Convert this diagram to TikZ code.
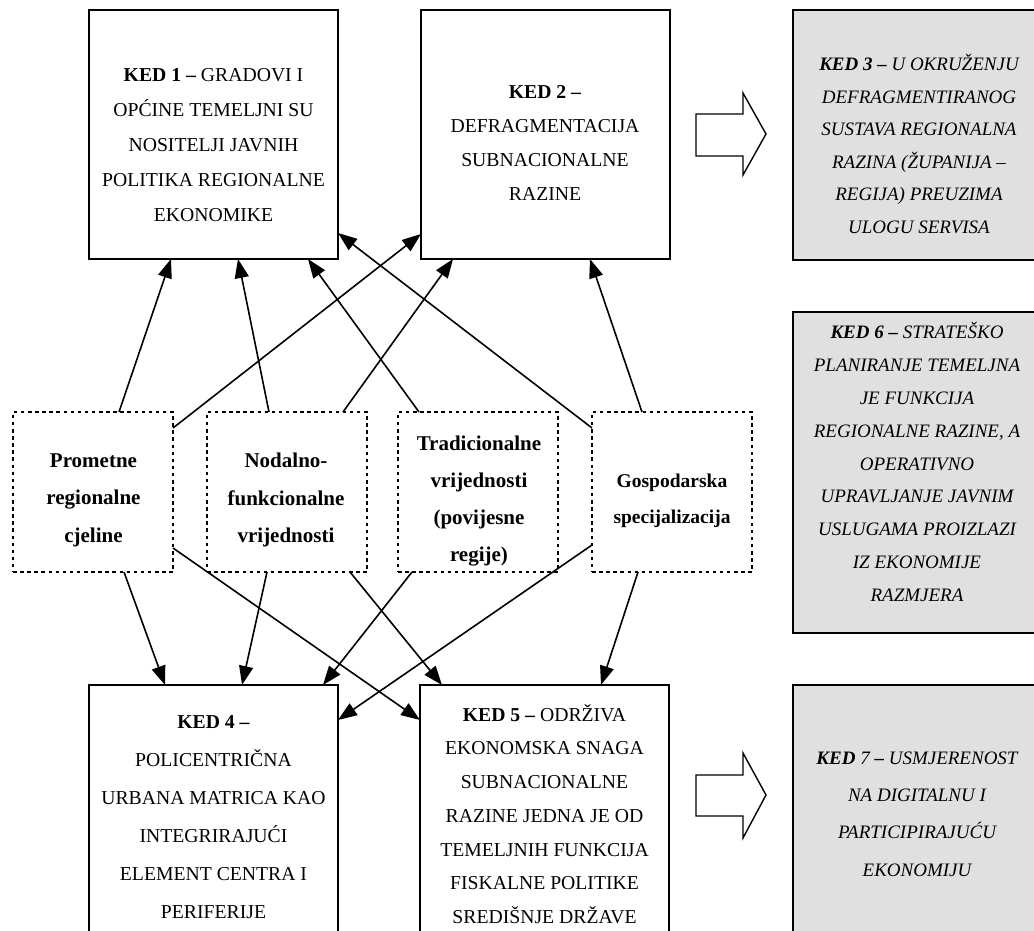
\documentclass[tikz,border=0pt]{standalone}
\usepackage{fontspec}
\setmainfont{Liberation Serif}
\usetikzlibrary{arrows.meta,calc}
\definecolor{boxgray}{RGB}{224,224,224}
\begin{document}
\begin{tikzpicture}[x=1pt,y=-1pt,
  kedbox/.style={draw=black, line width=1.8pt, minimum width=249pt, minimum height=249pt, inner sep=0pt, outer sep=0pt},
  graybox/.style={kedbox, fill=boxgray, minimum width=258pt},
  dotbox/.style={draw=black, line width=1.6pt, dash pattern=on 3.5pt off 3.6pt, minimum width=160pt, minimum height=160pt, inner sep=0pt, outer sep=0pt},
  link/.style={line width=1.6pt, -{Triangle[length=19pt,width=14pt]}},
  blockarrow/.style={draw=black, line width=1.4pt, fill=white, line join=miter},
  kedtext/.style={align=center, inner sep=0pt},
  dottext/.style={align=center, inner sep=0pt}
]
\useasboundingbox (0,0) rectangle (1034,931);
\clip (0,0) rectangle (1034,931);

% solid boxes
\node[kedbox] (k1) at (213.5,134.5) {};
\node[kedbox] (k2) at (545.5,134.5) {};
\node[graybox, minimum height=250pt] (k3) at (922,135) {};
\node[graybox, minimum height=321pt] (k6) at (922,472.5) {};
\node[graybox, minimum height=260pt] (k7) at (922,815) {};
\node[kedbox, minimum height=260pt] (k4) at (213.5,815) {};
\node[kedbox, minimum height=260pt] (k5) at (544.5,815) {};

% texts of solid boxes
\node[kedtext, font=\fontsize{19.7}{35}\selectfont] (t1) at (213.5,145)
  {\textbf{KED 1 –} GRADOVI I\\OPĆINE TEMELJNI SU\\NOSITELJI JAVNIH\\POLITIKA REGIONALNE\\EKONOMIKE};
\node[kedtext, font=\fontsize{19.7}{34}\selectfont] (t2) at (545,143)
  {\textbf{KED 2 –}\\DEFRAGMENTACIJA\\SUBNACIONALNE\\RAZINE};
\node[kedtext, font=\fontsize{19}{32.5}\selectfont\itshape] (t3) at (919,144)
  {\textbf{KED 3 –} U OKRUŽENJU\\DEFRAGMENTIRANOG\\SUSTAVA REGIONALNA\\RAZINA (ŽUPANIJA –\\REGIJA) PREUZIMA\\ULOGU SERVISA};
\node[kedtext, font=\fontsize{19}{32.9}\selectfont\itshape] (t6) at (917,462)
  {\textbf{KED 6 –} STRATEŠKO\\PLANIRANJE TEMELJNA\\JE FUNKCIJA\\REGIONALNE RAZINE, A\\OPERATIVNO\\UPRAVLJANJE JAVNIM\\USLUGAMA PROIZLAZI\\IZ EKONOMIJE\\RAZMJERA};
\node[kedtext, font=\fontsize{19}{37.3}\selectfont\itshape] (t7) at (917,814)
  {\textbf{KED} 7 \textbf{–} USMJERENOST\\NA DIGITALNU I\\PARTICIPIRAJUĆU\\EKONOMIJU};
\node[kedtext, font=\fontsize{19.7}{38}\selectfont] (t4) at (213.5,817)
  {\textbf{KED 4 –}\\POLICENTRIČNA\\URBANA MATRICA KAO\\INTEGRIRAJUĆI\\ELEMENT CENTRA I\\PERIFERIJE};
\node[kedtext, font=\fontsize{19.7}{33.7}\selectfont] (t5) at (544.5,814)
  {\textbf{KED 5 –} ODRŽIVA\\EKONOMSKA SNAGA\\SUBNACIONALNE\\RAZINE JEDNA JE OD\\TEMELJNIH FUNKCIJA\\FISKALNE POLITIKE\\SREDIŠNJE DRŽAVE};

% dotted boxes
\node[dotbox] (p1) at (93,492) {};
\node[dotbox] (p2) at (287,492) {};
\node[dotbox] (p3) at (478,492) {};
\node[dotbox] (p4) at (672,492) {};

\node[dottext, font=\fontsize{21}{37.5}\selectfont\bfseries] (q1) at (93.5,500) {Prometne\\regionalne\\cjeline};
\node[dottext, font=\fontsize{21}{37.5}\selectfont\bfseries] (q2) at (286,500) {Nodalno-\\funkcionalne\\vrijednosti};
\node[dottext, font=\fontsize{21}{36.7}\selectfont\bfseries] (q3) at (479,501) {Tradicionalne\\vrijednosti\\(povijesne\\regije)};
\node[dottext, font=\fontsize{19.5}{36}\selectfont\bfseries] (q4) at (672,501) {Gospodarska\\specijalizacija};

% block arrows
\draw[blockarrow] (696,114) -- (743,114) -- (743,93) -- (766,134) -- (743,175) -- (743,156) -- (696,156) -- cycle;
\draw[blockarrow] (696,775) -- (743,775) -- (743,753) -- (766,795) -- (743,838) -- (743,816) -- (696,816) -- cycle;

% connectors
\draw[link] ($(p1.north)+(26,0)$) -- ($(k1.south)+(-42.5,0)$);
\draw[link] ($(p2.north)+(-18,0)$) -- ($(k1.south)+(24.5,0)$);
\draw[link] ($(p3.north)+(-59,0)$) -- ($(k1.south)+(94.5,0)$);
\draw[link] ($(p1.east)+(0,-64)$) -- ($(k2.west)+(0,99.5)$);
\draw[link] ($(p2.north)+(56,0)$) -- ($(k2.south)+(-92.5,0)$);
\draw[link] ($(p4.west)+(0,-64)$) -- ($(k1.east)+(0,98.5)$);
\draw[link] ($(p4.north)+(-30,0)$) -- ($(k2.south)+(44.5,0)$);

\draw[link] ($(p1.south)+(31,0)$) -- ($(k4.north)+(-48.5,0)$);
\draw[link] ($(p2.south)+(-20,0)$) -- ($(k4.north)+(28.5,0)$);
\draw[link] ($(p3.south)+(-66,0)$) -- ($(k4.north)+(109.5,0)$);
\draw[link] ($(p4.west)+(0,53)$) -- ($(k4.north east)+(0,35)$);
\draw[link] ($(p1.east)+(0,56)$) -- ($(k5.north west)+(0,35)$);
\draw[link] ($(p2.south)+(63,0)$) -- ($(k5.north)+(-102.5,0)$);
\draw[link] ($(p4.south)+(-34,0)$) -- ($(k5.north)+(56.5,0)$);
\end{tikzpicture}
\end{document}
